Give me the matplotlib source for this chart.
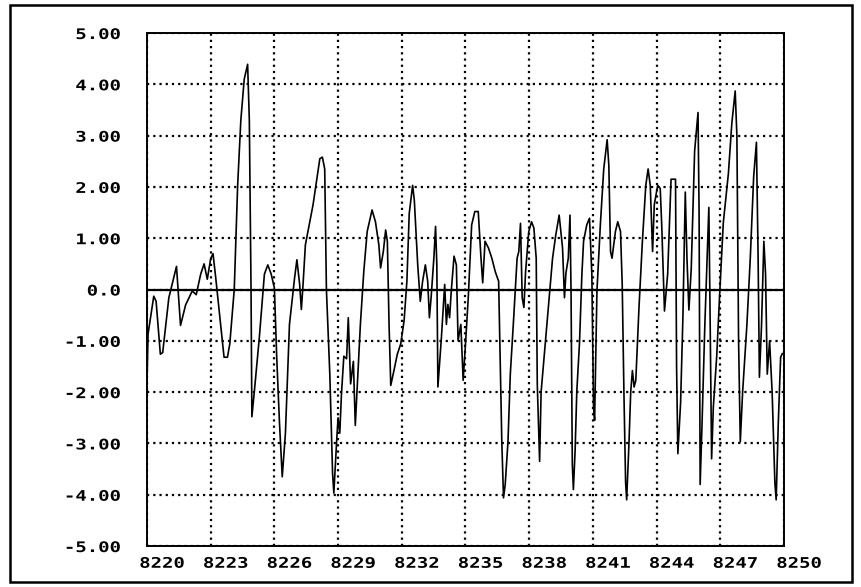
import matplotlib
matplotlib.use("Agg")
import matplotlib.pyplot as plt
import matplotlib.transforms as mtransforms
import matplotlib.patheffects as pe
from matplotlib.patches import Rectangle

# traced signal (x = sample index, y = amplitude)
x_vals = [8220.0, 8220.05, 8220.32, 8220.43, 8220.63, 8220.74, 8221.03, 8221.39, 8221.58,
          8221.82, 8222.13, 8222.32, 8222.53, 8222.69, 8222.84, 8223.0, 8223.11, 8223.24,
          8223.63, 8223.79, 8223.90, 8224.11, 8224.27, 8224.42, 8224.58, 8224.74, 8224.82,
          8224.90, 8224.94, 8225.06, 8225.29, 8225.53, 8225.69, 8225.85, 8226.0, 8226.11,
          8226.24, 8226.37, 8226.52, 8226.71, 8226.95, 8227.06, 8227.19, 8227.27, 8227.35,
          8227.46, 8227.58, 8227.82, 8227.98, 8228.14, 8228.26, 8228.37, 8228.45, 8228.61,
          8228.74, 8228.80, 8228.93, 8229.0, 8229.08, 8229.16, 8229.27, 8229.40, 8229.48,
          8229.59, 8229.72, 8229.81, 8229.89,
          8230.05, 8230.21, 8230.37, 8230.60, 8230.76, 8230.92, 8231.0, 8231.13, 8231.24,
          8231.32, 8231.40, 8231.48, 8231.63, 8231.79, 8231.95, 8232.11, 8232.24, 8232.35,
          8232.51, 8232.59, 8232.75, 8232.87, 8232.98, 8233.11, 8233.22, 8233.30, 8233.38,
          8233.51, 8233.59, 8233.65, 8233.70, 8233.86, 8234.02, 8234.10, 8234.17, 8234.25,
          8234.33, 8234.46, 8234.57, 8234.65, 8234.78, 8234.89, 8235.0, 8235.13, 8235.29,
          8235.44, 8235.60, 8235.73, 8235.81, 8235.92, 8236.08, 8236.24, 8236.40, 8236.56,
          8236.63, 8236.71, 8236.79, 8236.87, 8237.0, 8237.11, 8237.27, 8237.43, 8237.51,
          8237.59, 8237.67, 8237.75, 8237.83, 8237.98, 8238.11, 8238.22, 8238.33, 8238.38,
          8238.46, 8238.49, 8238.56, 8238.70, 8238.94, 8239.10, 8239.25, 8239.41, 8239.57,
          8239.66,
          8239.73, 8239.84, 8239.92, 8239.97, 8240.03, 8240.08, 8240.16, 8240.24, 8240.37,
          8240.48, 8240.56, 8240.71, 8240.84, 8240.95, 8241.03, 8241.08, 8241.19, 8241.35,
          8241.51, 8241.67, 8241.75, 8241.83, 8241.90, 8242.06, 8242.17, 8242.30, 8242.38,
          8242.46, 8242.54, 8242.59, 8242.70, 8242.78, 8242.86, 8242.94, 8243.02, 8243.17,
          8243.33, 8243.49, 8243.60, 8243.70, 8243.81, 8243.89, 8244.05, 8244.17, 8244.24,
          8244.37, 8244.52, 8244.68, 8244.89, 8244.94, 8245.0, 8245.13, 8245.24, 8245.35,
          8245.43, 8245.52, 8245.63, 8245.79, 8245.95, 8246.0, 8246.05, 8246.14, 8246.27,
          8246.40, 8246.46, 8246.51, 8246.59, 8246.67, 8246.83, 8246.98, 8247.14, 8247.38,
          8247.54, 8247.70, 8247.78, 8247.86, 8247.94, 8248.05, 8248.25, 8248.41, 8248.57,
          8248.70, 8248.78, 8248.84, 8248.94, 8249.05, 8249.13, 8249.21, 8249.32, 8249.44,
          8249.57, 8249.63, 8249.73, 8249.84, 8249.92]
y_vals = [-1.85, -0.87, -0.13, -0.23, -1.26, -1.23, -0.16, 0.45, -0.70,
          -0.30, -0.03, -0.10, 0.30, 0.50, 0.20, 0.60, 0.70, 0.22,
          -1.32, -1.32, -1.06, 0.0, 2.03, 3.30, 4.10, 4.39, 3.30,
          0.03, -2.48, -1.97, -0.94, 0.30, 0.48, 0.30, 0.03, -1.32,
          -2.60, -3.65, -2.80, -0.68, 0.22, 0.58, 0.10, -0.39, 0.10,
          0.87, 1.13, 1.65, 2.10, 2.55, 2.58, 2.35, 0.0, -1.65,
          -3.58, -3.97, -2.97, -2.50, -2.80, -2.03, -1.30, -1.35, -0.55,
          -1.84, -1.40, -2.65, -2.00,
          -0.68, 0.35, 1.13, 1.55, 1.32, 0.87, 0.42, 0.74, 1.16,
          0.94, -0.68, -1.87, -1.58, -1.26, -1.06, -0.60, 0.16, 1.48,
          2.03, 1.74, 0.48, -0.23, 0.16, 0.48, 0.16, -0.55, -0.16,
          0.61, 1.23, 0.48, -1.90, -0.97, 0.10, -0.68, -0.29, -0.55,
          -0.03, 0.65, 0.48, -1.00, -0.68, -1.77, -1.06, -0.16, 1.26,
          1.52, 1.52, 0.61, 0.13, 0.94, 0.81, 0.61, 0.35, 0.16,
          -1.32, -2.97, -4.06, -3.80, -2.97, -1.65, -0.55, 0.61, 0.74,
          1.29, -0.16, -0.35, 0.35, 1.13, 1.32, 1.20, 0.61, -1.84,
          -2.90, -3.35, -2.00, -1.32, -0.16, 0.61, 1.06, 1.45, 0.81,
          -0.16,
          0.32, 0.61, 1.45, -0.03, -3.40, -3.90, -3.16, -2.00, -1.03,
          0.29, 0.94, 1.26, 1.39, 0.29, -2.30, -2.55, -0.03, 1.26,
          2.35, 2.92, 2.42, 0.74, 0.61, 1.13, 1.32, 1.13, 0.10,
          -2.00, -3.77, -4.10, -2.97, -2.00, -1.58, -1.90, -1.77, -0.35,
          0.94, 2.03, 2.35, 2.03, 0.74, 1.65, 2.03, 1.97, 1.26,
          -0.42, 0.30, 2.15, 2.15, -1.50, -3.20, -2.20, -0.50, 1.90,
          0.60, -0.40, 0.40, 2.70, 3.45, 1.50, -3.80, -2.60, -0.70,
          0.87, 1.60, -0.20, -3.30, -2.30, -1.30, 0.0, 1.30, 2.26,
          3.23, 3.87, 3.00, -1.00, -2.97, -2.00, -0.70, 0.60, 2.20,
          2.87, 0.61, -1.71, -0.70, 0.94, 0.30, -1.65, -1.00, -2.00,
          -3.77, -4.10, -2.60, -1.32, -1.25]

x_ticks = [8220, 8223, 8226, 8229, 8232, 8235, 8238, 8241, 8244, 8247, 8250]
y_ticks = [5, 4, 3, 2, 1, 0, -1, -2, -3, -4, -5]
y_labels = ["5.00", "4.00", "3.00", "2.00", "1.00", "0.0",
            "-1.00", "-2.00", "-3.00", "-4.00", "-5.00"]


# old printer font is wide: stretch the glyphs sideways around an anchor
class Stretch(pe.AbstractPathEffect):
    def __init__(self, sx, anchor):
        super().__init__()
        self.sx = sx
        self.anchor = anchor

    def draw_path(self, renderer, gc, tpath, affine, rgbFace=None):
        ext = tpath.get_extents()
        cx = ext.x0 + self.anchor * (ext.x1 - ext.x0)
        t = mtransforms.Affine2D().translate(-cx, 0).scale(self.sx, 1).translate(cx, 0)
        renderer.draw_path(gc, tpath, t + affine, rgbFace)


fig = plt.figure(figsize=(8.61, 5.87), dpi=100)
ax = fig.add_axes([0.1707, 0.0698, 0.7399, 0.874])

ax.plot(x_vals, y_vals, color="black", lw=1.2)
ax.axhline(0, color="black", lw=1.6)

ax.set_xlim(8220, 8250)
ax.set_ylim(-5, 5)
ax.set_xticks(x_ticks)
ax.set_yticks(y_ticks)
ax.set_yticklabels(y_labels)
ax.grid(True, color="black", linestyle=(0, (1, 1.8)), lw=1.6)
ax.tick_params(length=0)
ax.tick_params(axis="y", pad=19)
ax.tick_params(axis="x", pad=7)
for lab in ax.get_xticklabels() + ax.get_yticklabels():
    lab.set_fontfamily("DejaVu Sans Mono")
    lab.set_fontweight("bold")
    lab.set_fontsize(10.5)
for lab in ax.get_yticklabels():
    lab.set_path_effects([Stretch(1.3, 1.0)])
# x labels sit a little to the right of their grid line
offset = mtransforms.ScaledTranslation(15 / 100, 0, fig.dpi_scale_trans)
for lab in ax.get_xticklabels():
    lab.set_transform(lab.get_transform() + offset)
    lab.set_path_effects([Stretch(1.3, 0.5)])
for sp in ax.spines.values():
    sp.set_linewidth(1.4)
    sp.set_color("black")

# frame around the whole picture
fig.patches.append(Rectangle((10 / 861, 5 / 587), 842 / 861, 577 / 587,
                             transform=fig.transFigure, fill=False,
                             edgecolor="black", lw=1.8))

fig.savefig("out.png", dpi=100)
